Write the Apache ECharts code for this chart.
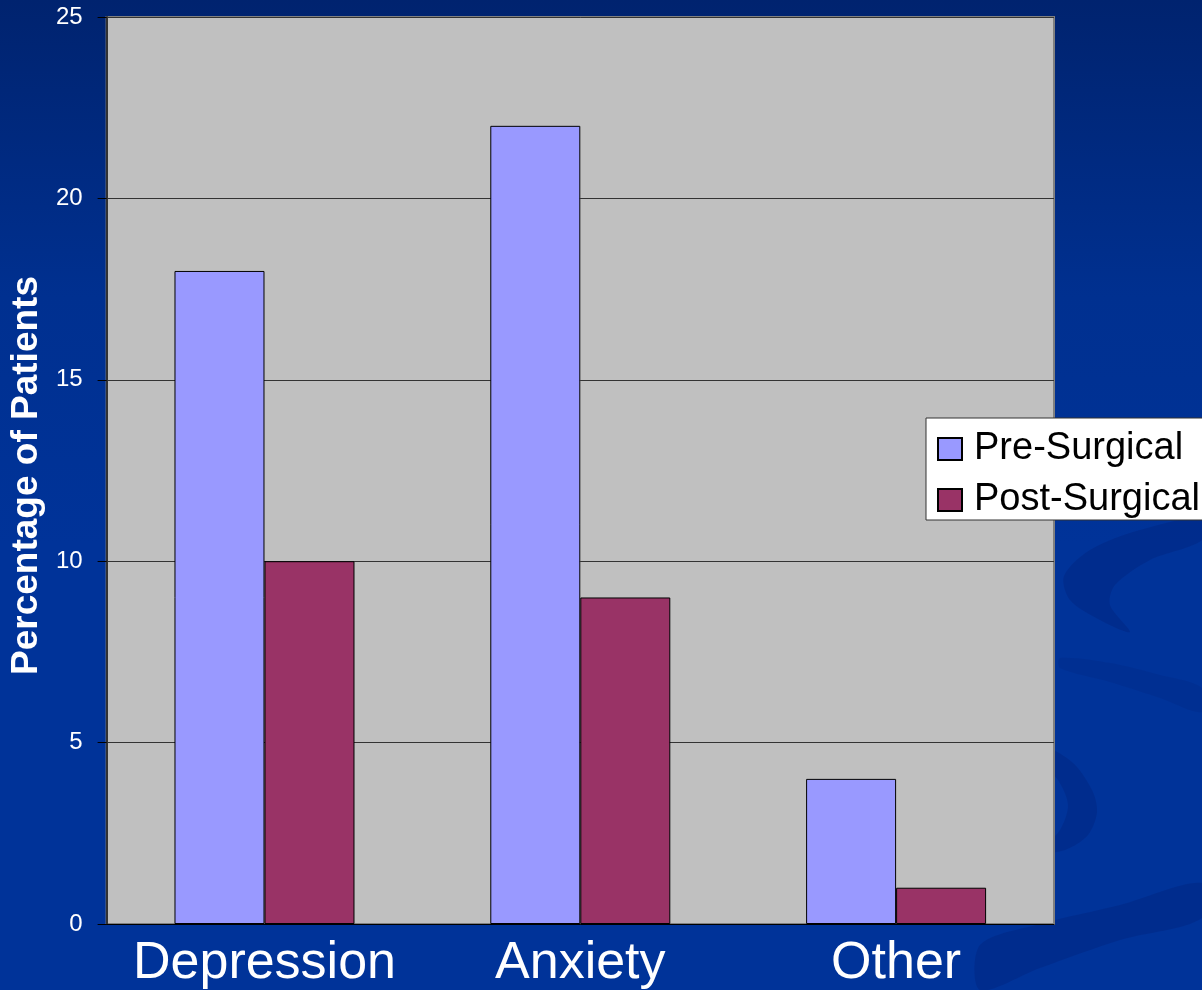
<!DOCTYPE html>
<html>
<head>
<meta charset="utf-8">
<script src="https://cdn.jsdelivr.net/npm/echarts@6/dist/echarts.min.js"></script>
<style>
  html, body { margin: 0; padding: 0; }
  #chart { width: 1202px; height: 990px; }
</style>
</head>
<body>
<div id="chart"></div>
<script>
// Diagnoses before and after surgery (percentage of patients)
const categories = ['Depression', 'Anxiety', 'Other'];
const preSurgical = [18, 22, 4];
const postSurgical = [10, 9, 1];
const seriesNames = ['Pre-Surgical', 'Post-Surgical'];
const yTicks = { min: 0, max: 25, interval: 5 };

const chart = echarts.init(document.getElementById('chart'), null, { renderer: 'canvas' });

// Faint darker swirls decorating the slide background on the right
const swirlFill = 'rgba(0, 25, 100, 0.22)';
function swirl(points, fill) {
  return { type: 'polygon', z: -10, silent: true,
           shape: { points: points, smooth: 0.3 },
           style: { fill: fill || swirlFill } };
}
const swirls = [
  swirl([[1202,518],[1140,530],[1090,550],[1064,576],[1070,600],[1100,620],[1130,632],[1110,605],[1115,585],[1150,560],[1202,540]]),
  swirl([[1040,745],[1072,762],[1092,790],[1097,812],[1088,835],[1065,850],[1040,852],[1060,830],[1068,805],[1058,780],[1040,762]]),
  swirl([[980,990],[1040,968],[1120,940],[1202,918],[1202,883],[1120,905],[1040,924],[980,945]]),
  swirl([[1060,658],[1110,663],[1160,675],[1202,688],[1202,712],[1160,698],[1110,682],[1060,668]], 'rgba(0, 25, 100, 0.12)')
];

const textFont = 'Liberation Sans, Arial, sans-serif';

chart.setOption({
  backgroundColor: {
    type: 'linear', x: 0, y: 0, x2: 0, y2: 1,
    colorStops: [
      { offset: 0, color: '#00236f' },
      { offset: 0.3, color: '#003090' },
      { offset: 0.55, color: '#003399' },
      { offset: 1, color: '#003399' }
    ]
  },
  animation: false,
  graphic: swirls,
  grid: {
    left: 106, top: 17, width: 948, height: 908,
    show: true, backgroundColor: '#C0C0C0', borderColor: '#808080', borderWidth: 2
  },
  legend: {
    data: seriesNames,
    orient: 'vertical',
    left: 926, top: 418,
    icon: 'rect',
    backgroundColor: '#FFFFFF',
    borderColor: '#333333', borderWidth: 1,
    padding: [12, 12, 1, 11],
    itemWidth: 24, itemHeight: 22, itemGap: 13,
    textStyle: { fontFamily: textFont, fontSize: 38, color: '#000000',
                 lineHeight: 37, padding: [0, 0, 0, 7] }
  },
  xAxis: {
    type: 'category',
    data: categories,
    axisLine: { show: true, lineStyle: { color: '#000000', width: 1 } },
    axisTick: { show: false },
    axisLabel: { interval: 0, color: '#FFFFFF', fontSize: 52, fontFamily: textFont, margin: 14 }
  },
  yAxis: {
    type: 'value',
    min: yTicks.min, max: yTicks.max, interval: yTicks.interval,
    name: 'Percentage of Patients',
    nameLocation: 'middle',
    nameGap: 55,
    nameTextStyle: { color: '#FFFFFF', fontSize: 37, fontWeight: 'bold', fontFamily: textFont,
                     padding: [0, 10, 0, 0] },
    axisLine: { show: true, lineStyle: { color: '#333333', width: 2 } },
    axisTick: { show: true, length: 9, lineStyle: { color: '#000000', width: 1 } },
    splitLine: { show: true, lineStyle: { color: '#333333', width: 1 } },
    axisLabel: { color: '#FFFFFF', fontSize: 24, fontFamily: textFont, margin: 24 }
  },
  series: [
    {
      name: seriesNames[0], type: 'bar', data: preSurgical,
      barGap: '0%', barCategoryGap: '43%',
      itemStyle: { color: '#9999FF', borderColor: '#000000', borderWidth: 1 }
    },
    {
      name: seriesNames[1], type: 'bar', data: postSurgical,
      barGap: '0%', barCategoryGap: '43%',
      itemStyle: { color: '#993366', borderColor: '#000000', borderWidth: 1 }
    }
  ]
});
</script>
</body>
</html>
